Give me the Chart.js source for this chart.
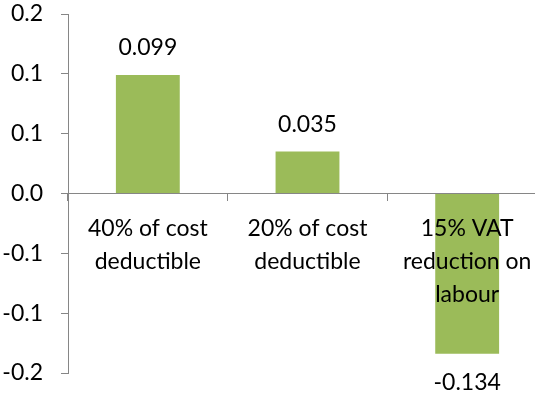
<!DOCTYPE html>
<html>
<head>
<meta charset="utf-8">
<script src="https://cdn.jsdelivr.net/npm/chart.js@4"></script>
<style>
  html, body { margin: 0; padding: 0; background: #fff; overflow: hidden; }
  #wrap { width: 560px; height: 393px; }
</style>
</head>
<body>
<div id="wrap"><canvas id="bar-chart"></canvas></div>
<script>
// data
const categories = [
    ['40% of cost', 'deductible'],
    ['20% of cost', 'deductible'],
    ['15% VAT', 'reduction on', 'labour']
];
const values = [0.099, 0.035, -0.134];

// excel rounded the 0.05 steps to one decimal
const tickValues = [0.15, 0.1, 0.05, 0, -0.05, -0.1, -0.15];
const tickLabels = ['0.2', '0.1', '0.1', '0.0', '-0.1', '-0.1', '-0.2'];

const textFont = { family: 'Lato', size: 23, lineHeight: 1.42 };
const axisColor = '#868686';

// value labels above / below each bar
const valueLabels = {
    id: 'valueLabels',
    afterDatasetsDraw(chart) {
        const ctx = chart.ctx;
        const meta = chart.getDatasetMeta(0);
        ctx.save();
        ctx.font = `${textFont.size}px ${textFont.family}`;
        ctx.fillStyle = '#000';
        ctx.textAlign = 'center';
        ctx.textBaseline = 'middle';
        meta.data.forEach((bar, i) => {
            const v = values[i];
            const y = v >= 0 ? bar.y - 27 : bar.y + 29;
            ctx.fillText(v.toFixed(3), bar.x, y);
        });
        ctx.restore();
    }
};

const chart = new Chart(document.getElementById('bar-chart'), {
    type: 'bar',
    data: {
        labels: categories,
        datasets: [{
            data: values,
            backgroundColor: '#9BBB59',
            barPercentage: 0.4,
            categoryPercentage: 1.0
        }]
    },
    options: {
        responsive: true,
        maintainAspectRatio: false,
        animation: false,
        layout: { padding: { top: 14, bottom: 20, left: 0, right: 13 } },
        plugins: { legend: { display: false }, tooltip: { enabled: false } },
        scales: {
            x: {
                position: { y: 0 },
                afterFit: (s) => { s.height = 0; s.paddingLeft = 0; s.paddingRight = 0 },
                grid: { offset: true, drawOnChartArea: false, drawTicks: true, tickLength: 7, color: axisColor },
                border: { color: axisColor },
                ticks: {
                    z: 1,
                    color: '#000',
                    font: textFont,
                    padding: 12,
                    maxRotation: 0,
                    autoSkip: false
                }
            },
            y: {
                min: -0.15,
                max: 0.15,
                afterFit: (s) => { s.width = 68; s.paddingTop = 0; s.paddingBottom = 0 },
                afterBuildTicks: (s) => { s.ticks = tickValues.map(v => ({ value: v })) },
                grid: { drawOnChartArea: false, drawTicks: true, tickLength: 7, color: axisColor },
                border: { color: axisColor },
                ticks: {
                    color: '#000',
                    font: textFont,
                    padding: 18,
                    callback: (value) => {
                        const i = tickValues.findIndex(t => Math.abs(t - value) < 1e-9);
                        return i >= 0 ? tickLabels[i] : '';
                    }
                }
            }
        }
    },
    plugins: [valueLabels]
});
</script>
</body>
</html>
